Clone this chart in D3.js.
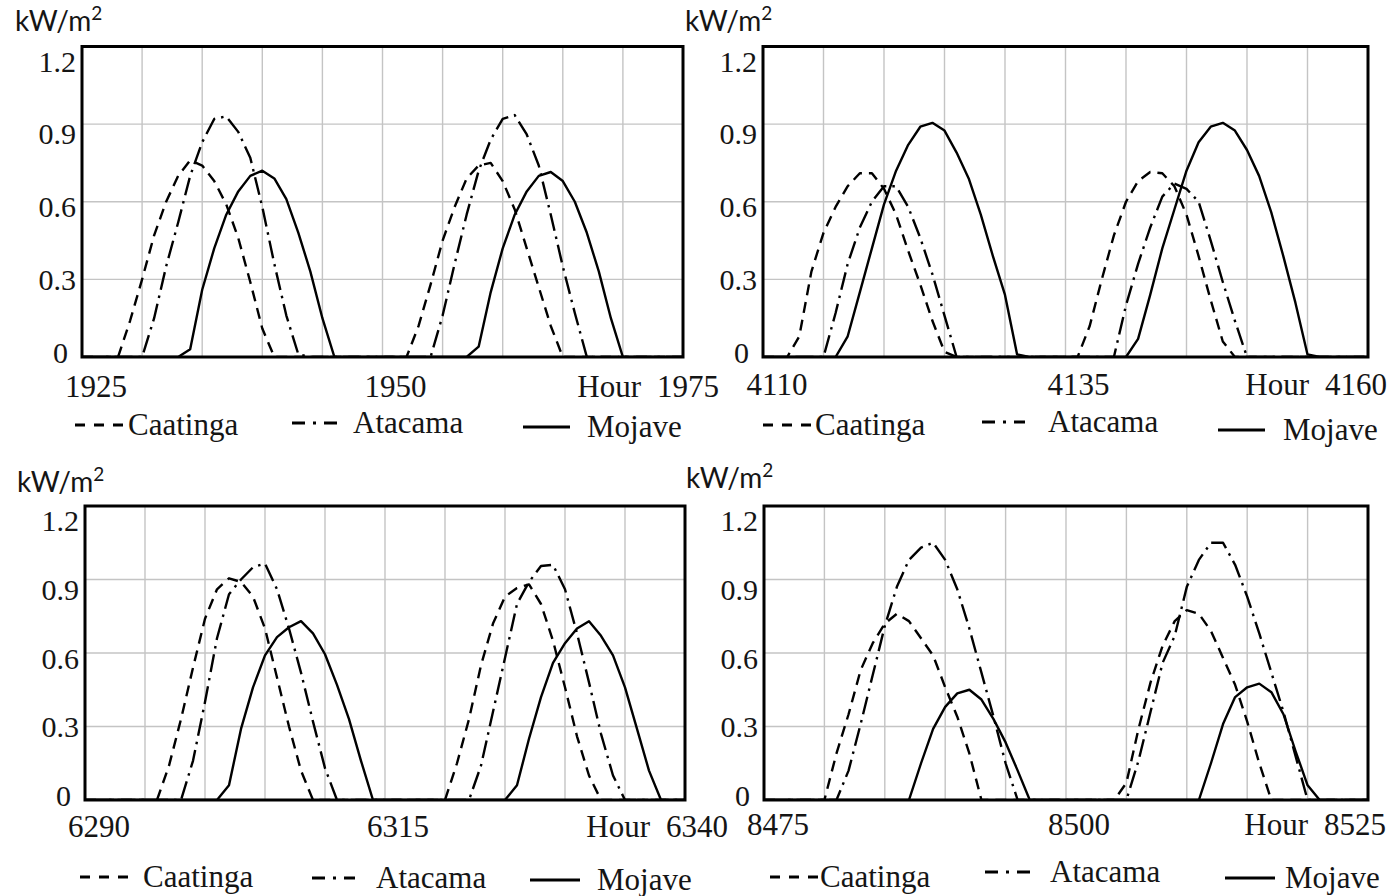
<!DOCTYPE html>
<html>
<head>
<meta charset="utf-8">
<script src="https://cdn.jsdelivr.net/npm/d3@7"></script>
<style>
  html, body { margin: 0; padding: 0; background: #ffffff; }
  svg { display: block; }
  .serif { font-family: "Liberation Serif", "Times New Roman", serif; fill: #151515; }
  .unit { font-family: Lato, "Open Sans", sans-serif; fill: #151515; }
</style>
</head>
<body>
<svg id="chart" width="1393" height="896"></svg>
<script>
// Hourly solar irradiance (kW/m²), 51 hourly samples per 50-hour window.
const seriesNames = ["Caatinga", "Atacama", "Mojave"];
const yTicks = [0, 0.3, 0.6, 0.9, 1.2];
const yTickLabels = ["0", "0.3", "0.6", "0.9", "1.2"];
const windowStarts = [1925, 4110, 6290, 8475];

const caatinga1925 = [0,0,0,0,0.14,0.30,0.47,0.60,0.70,0.76,0.74,0.68,0.59,0.46,0.29,0.11,0,0,0,0,0,0,0,0,0,0,0,0,0.12,0.28,0.45,0.58,0.69,0.74,0.75,0.68,0.57,0.42,0.27,0.12,0,0,0,0,0,0,0,0,0,0,0];
const atacama1925  = [0,0,0,0,0,0,0.15,0.35,0.52,0.70,0.83,0.92,0.93,0.87,0.77,0.58,0.36,0.16,0.01,0,0,0,0,0,0,0,0,0,0,0,0.16,0.36,0.55,0.72,0.84,0.92,0.935,0.86,0.74,0.55,0.35,0.17,0,0,0,0,0,0,0,0,0];
const mojave1925   = [0,0,0,0,0,0,0,0,0,0.03,0.26,0.42,0.55,0.64,0.70,0.72,0.69,0.61,0.48,0.33,0.15,0,0,0,0,0,0,0,0,0,0,0,0,0.04,0.25,0.42,0.55,0.64,0.70,0.715,0.68,0.60,0.48,0.33,0.15,0,0,0,0,0,0];

const caatinga4110 = [0,0,0,0.08,0.33,0.48,0.58,0.66,0.71,0.71,0.65,0.55,0.41,0.28,0.14,0.02,0,0,0,0,0,0,0,0,0,0,0,0.12,0.30,0.47,0.60,0.68,0.715,0.71,0.66,0.55,0.39,0.22,0.06,0,0,0,0,0,0,0,0,0,0,0,0];
const atacama4110  = [0,0,0,0,0,0,0.17,0.36,0.50,0.60,0.66,0.66,0.58,0.46,0.32,0.16,0,0,0,0,0,0,0,0,0,0,0,0,0,0,0.20,0.36,0.50,0.62,0.67,0.65,0.60,0.45,0.29,0.14,0,0,0,0,0,0,0,0,0,0,0];
const mojave4110   = [0,0,0,0,0,0,0,0.08,0.25,0.42,0.59,0.72,0.82,0.89,0.905,0.875,0.79,0.69,0.55,0.39,0.24,0.01,0,0,0,0,0,0,0,0,0,0.07,0.24,0.42,0.57,0.72,0.83,0.89,0.905,0.875,0.80,0.70,0.56,0.39,0.21,0.01,0,0,0,0,0];

const caatinga6290 = [0,0,0,0,0,0,0,0.14,0.33,0.54,0.74,0.86,0.905,0.89,0.83,0.70,0.50,0.30,0.12,0,0,0,0,0,0,0,0,0,0,0,0,0.15,0.33,0.55,0.72,0.83,0.865,0.88,0.80,0.65,0.46,0.26,0.10,0,0,0,0,0,0,0,0];
const atacama6290  = [0,0,0,0,0,0,0,0,0,0.16,0.40,0.66,0.84,0.90,0.95,0.965,0.86,0.70,0.52,0.32,0.13,0,0,0,0,0,0,0,0,0,0,0,0,0.14,0.36,0.58,0.80,0.89,0.955,0.96,0.86,0.68,0.48,0.27,0.10,0,0,0,0,0,0];
const mojave6290   = [0,0,0,0,0,0,0,0,0,0,0,0,0.06,0.29,0.46,0.59,0.665,0.705,0.73,0.68,0.595,0.47,0.33,0.16,0,0,0,0,0,0,0,0,0,0,0,0,0.06,0.25,0.42,0.56,0.64,0.70,0.73,0.67,0.59,0.46,0.29,0.12,0,0,0];

const caatinga8475 = [0,0,0,0,0,0,0.19,0.35,0.53,0.64,0.72,0.76,0.73,0.66,0.59,0.46,0.34,0.19,0,0,0,0,0,0,0,0,0,0,0,0,0.07,0.29,0.48,0.63,0.73,0.775,0.76,0.69,0.58,0.47,0.32,0.15,0,0,0,0,0,0,0,0,0];
const atacama8475  = [0,0,0,0,0,0,0,0.12,0.31,0.51,0.71,0.87,0.98,1.03,1.05,0.98,0.86,0.70,0.52,0.34,0.15,0,0,0,0,0,0,0,0,0,0,0.16,0.36,0.56,0.67,0.87,0.98,1.05,1.05,0.96,0.83,0.68,0.52,0.36,0.18,0,0,0,0,0,0];
const mojave8475   = [0,0,0,0,0,0,0,0,0,0,0,0,0,0.15,0.29,0.38,0.435,0.45,0.41,0.33,0.235,0.12,0,0,0,0,0,0,0,0,0,0,0,0,0,0,0,0.15,0.31,0.42,0.46,0.475,0.44,0.35,0.20,0.06,0,0,0,0,0];

const windowSeries = [
  [caatinga1925, atacama1925, mojave1925],
  [caatinga4110, atacama4110, mojave4110],
  [caatinga6290, atacama6290, mojave6290],
  [caatinga8475, atacama8475, mojave8475]
];

// Panel frames and text placement
const panels = [
  { left: 82,  right: 683,  top: 46.5, bottom: 357, xLabelDy: 40, lastRight: 719,
    unit: [15, 31], legendY: [425, 423, 427],
    legend: [[75, 125, 128], [292, 337, 353], [523, 570, 587]] },
  { left: 763, right: 1368, top: 46.5, bottom: 357, xLabelDy: 38, lastRight: 1387,
    unit: [685, 31], legendY: [425, 422, 430],
    legend: [[763, 812, 815], [982, 1025, 1048], [1218, 1265, 1283]] },
  { left: 85,  right: 685,  top: 506, bottom: 800, xLabelDy: 37, lastRight: 728,
    unit: [17, 492], legendY: [877, 878, 880],
    legend: [[80, 130, 143], [312, 355, 376], [530, 580, 597]] },
  { left: 764, right: 1368, top: 506, bottom: 800, xLabelDy: 35, lastRight: 1386,
    unit: [686, 488], legendY: [877, 872, 878],
    legend: [[770, 818, 820], [985, 1030, 1050], [1225, 1275, 1285]] }
];

const dashes = ["11,7", "18,6,2.5,6", null];
const legendDashes = ["10,9", "13,8,3,8", null];

const svg = d3.select("#chart");

panels.forEach((p, i) => {
  const start = windowStarts[i];
  const hours = d3.range(start, start + 51);
  const x = d3.scaleLinear().domain([start, start + 50]).range([p.left, p.right]);
  const y = d3.scaleLinear().domain([0, 1.2]).range([p.bottom, p.top]);
  // tick text sits a little inside the frame top/bottom
  const yLab = d3.scaleLinear().domain([0, 1.2]).range([p.bottom + 6, p.top + 25]);

  const g = svg.append("g");

  // grid
  g.append("g")
    .selectAll("line.v")
    .data(d3.range(start + 5, start + 50, 5))
    .join("line")
    .attr("x1", d => x(d)).attr("x2", d => x(d))
    .attr("y1", p.top).attr("y2", p.bottom)
    .attr("stroke", "#c4c4c4").attr("stroke-width", 1.4);
  g.append("g")
    .selectAll("line.h")
    .data(yTicks.filter(t => t > 0 && t < 1.2))
    .join("line")
    .attr("x1", p.left).attr("x2", p.right)
    .attr("y1", d => y(d)).attr("y2", d => y(d))
    .attr("stroke", "#c4c4c4").attr("stroke-width", 1.4);

  // curves
  const clipId = "clip" + i;
  svg.append("clipPath").attr("id", clipId)
    .append("rect")
    .attr("x", p.left).attr("y", p.top - 2)
    .attr("width", p.right - p.left).attr("height", p.bottom - p.top + 2);

  const line = d3.line().x((d, k) => x(hours[k])).y(d => y(d));
  windowSeries[i].forEach((vals, s) => {
    g.append("path")
      .attr("clip-path", `url(#${clipId})`)
      .attr("d", line(vals))
      .attr("fill", "none")
      .attr("stroke", "#000")
      .attr("stroke-width", 2.4)
      .attr("stroke-linejoin", "round")
      .attr("stroke-dasharray", dashes[s]);
  });

  // frame
  g.append("rect")
    .attr("x", p.left).attr("y", p.top)
    .attr("width", p.right - p.left).attr("height", p.bottom - p.top)
    .attr("fill", "none").attr("stroke", "#000").attr("stroke-width", 3);

  // y tick labels
  g.selectAll("text.yt")
    .data(yTicks)
    .join("text")
    .attr("class", "serif")
    .attr("x", d => d === 0 ? p.left - 14 : p.left - 6)
    .attr("y", d => yLab(d))
    .attr("text-anchor", "end")
    .attr("font-size", 30)
    .text((d, k) => yTickLabels[k]);

  // x tick labels
  const xl = p.bottom + p.xLabelDy;
  g.append("text").attr("class", "serif")
    .attr("x", x(start) + 14).attr("y", xl)
    .attr("text-anchor", "middle").attr("font-size", 31)
    .text(start);
  g.append("text").attr("class", "serif")
    .attr("x", x(start + 25) + 13).attr("y", xl)
    .attr("text-anchor", "middle").attr("font-size", 31)
    .text(start + 25);
  g.append("text").attr("class", "serif")
    .attr("x", p.lastRight).attr("y", xl)
    .attr("text-anchor", "end").attr("font-size", 31)
    .text(start + 50);
  g.append("text").attr("class", "serif")
    .attr("x", p.lastRight - 78).attr("y", xl)
    .attr("text-anchor", "end").attr("font-size", 31)
    .text("Hour");

  // unit label with raised exponent
  const u = g.append("text").attr("class", "unit")
    .attr("x", p.unit[0]).attr("y", p.unit[1])
    .attr("font-size", 28);
  u.append("tspan").text("kW/m");
  u.append("tspan").attr("font-size", 19).attr("dy", -11).text("2");

  // legend
  seriesNames.forEach((name, s) => {
    const [x0, x1, tx] = p.legend[s];
    const ly = p.legendY[s];
    g.append("line")
      .attr("x1", x0).attr("x2", x1).attr("y1", ly).attr("y2", ly)
      .attr("stroke", "#000").attr("stroke-width", 3)
      .attr("stroke-dasharray", legendDashes[s]);
    g.append("text").attr("class", "serif")
      .attr("x", tx).attr("y", ly + 10)
      .attr("font-size", 31)
      .text(name);
  });
});
</script>
</body>
</html>
